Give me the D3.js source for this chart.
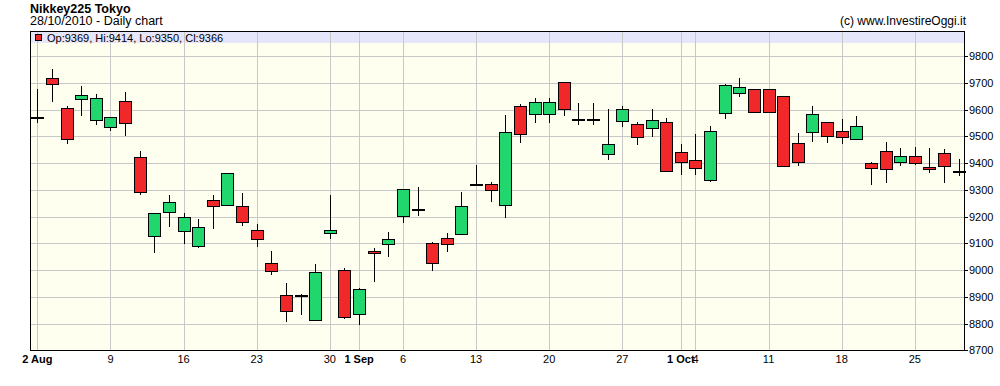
<!DOCTYPE html>
<html><head><meta charset="utf-8">
<script src="https://cdn.jsdelivr.net/npm/d3@7"></script>
<style>
body{margin:0;background:#fff;}
svg{display:block;font-family:"Liberation Sans",Arial,sans-serif;}
</style></head>
<body><svg id="c" width="1000" height="386"></svg>
<script>
const dates = ["2010-08-02","2010-08-03","2010-08-04","2010-08-05","2010-08-06",
"2010-08-09","2010-08-10","2010-08-11","2010-08-12","2010-08-13",
"2010-08-16","2010-08-17","2010-08-18","2010-08-19","2010-08-20",
"2010-08-23","2010-08-24","2010-08-25","2010-08-26","2010-08-27",
"2010-08-30","2010-08-31","2010-09-01","2010-09-02","2010-09-03",
"2010-09-06","2010-09-07","2010-09-08","2010-09-09","2010-09-10",
"2010-09-13","2010-09-14","2010-09-15","2010-09-16","2010-09-17",
"2010-09-20","2010-09-21","2010-09-22","2010-09-23","2010-09-24",
"2010-09-27","2010-09-28","2010-09-29","2010-09-30","2010-10-01",
"2010-10-04","2010-10-05","2010-10-06","2010-10-07","2010-10-08",
"2010-10-11","2010-10-12","2010-10-13","2010-10-14","2010-10-15",
"2010-10-18","2010-10-19","2010-10-20","2010-10-21","2010-10-22",
"2010-10-25","2010-10-26","2010-10-27","2010-10-28"];

const openV  = [9573,9717,9604,9638,9560, 9533,9631,9421,9126,9216, 9145,9089,9261,9243,9239,
 9148,9025,8906,8907,8812, 9139,8999,8834,9070,9097, 9201,9228,9100,9119,9134,
 9323,9320,9242,9612,9582, 9582,9702,9566,9566,9433, 9556,9545,9530,9552,9440,
 9410,9335,9586,9661,9676, 9676,9649,9474,9515,9552, 9519,9489,9399,9444,9403,
 9425,9384,9436,9369];
const highV  = [9677,9751,9613,9688,9658, 9571,9665,9445,9212,9280, 9213,9191,9280,9362,9288,
 9172,9071,8951,8909,9022, 9280,9008,8932,9082,9142, 9302,9310,9104,9138,9292,
 9393,9328,9579,9619,9643, 9643,9702,9624,9624,9602, 9613,9553,9602,9567,9470,
 9507,9538,9695,9718,9676, 9676,9649,9512,9613,9552, 9563,9575,9403,9477,9455,
 9459,9455,9451,9414];
const lowV   = [9548,9629,9472,9577,9543, 9521,9502,9282,9065,9162, 9096,9083,9152,9243,9166,
 9087,8982,8807,8833,8812, 9117,8818,8796,8956,9050, 9175,9203,8997,9067,9134,
 9315,9255,9196,9476,9551, 9551,9577,9543,9543,9412, 9536,9468,9498,9369,9356,
 9356,9330,9566,9648,9590, 9590,9388,9390,9480,9476, 9470,9489,9317,9326,9388,
 9391,9362,9326,9350];
const closeV = [9573,9694,9489,9653,9642, 9571,9548,9291,9212,9253, 9197,9160,9239,9362,9179,
 9115,8995,8846,8906,8991, 9148,8823,8928,9062,9115, 9302,9227,9025,9096,9239,
 9322,9298,9515,9507,9627, 9627,9601,9566,9566,9470, 9601,9496,9560,9369,9403,
 9380,9519,9690,9683,9590, 9590,9388,9403,9582,9500, 9496,9537,9380,9376,9425,
 9399,9376,9388,9366];

const xTickDates  = ["2010-08-02","2010-08-09","2010-08-16","2010-08-23","2010-08-30","2010-09-01",
 "2010-09-06","2010-09-13","2010-09-20","2010-09-27","2010-10-01","2010-10-04","2010-10-11","2010-10-18","2010-10-25"];
const xTickLabels = ["2 Aug","9","16","23","30","1 Sep","6","13","20","27","1 Oct","4","11","18","25"];
const xTickBold   = [true,false,false,false,false,true,false,false,false,false,true,false,false,false,false];
const yTicks = [8700,8800,8900,9000,9100,9200,9300,9400,9500,9600,9700,9800];

const title = "Nikkey225 Tokyo";
const subtitle = "28/10/2010 - Daily chart";
const credit = "(c) www.InvestireOggi.it";

const UP = "#22d66e", DOWN = "#f0282a";
const L = 30, R = 965, T = 31, B = 350;

const svg = d3.select("#c");
const x = d3.scaleBand().domain(dates).range([L, 966]).padding(0);
const y = d3.scaleLinear().domain([8700, 9800]).range([350.3, 56]);
const cx = d => Math.round(x(d) + x.bandwidth()/2) + 0.5;

// plot background
svg.append("rect").attr("x", L).attr("y", T).attr("width", R-L).attr("height", B-T).attr("fill", "#fffff0");
svg.append("rect").attr("x", L).attr("y", T).attr("width", R-L).attr("height", 12).attr("fill", "#e6e6fa");

// grid
const g = svg.append("g").attr("shape-rendering","crispEdges");
g.selectAll("line.h").data(yTicks).join("line")
  .attr("x1", L).attr("x2", R)
  .attr("y1", d => Math.round(y(d))+0.5).attr("y2", d => Math.round(y(d))+0.5)
  .attr("stroke", "#c8c8c8");
g.selectAll("line.v").data(xTickDates).join("line")
  .attr("x1", d => cx(d)).attr("x2", d => cx(d))
  .attr("y1", T).attr("y2", B)
  .attr("stroke", "#c8c8c8");

// legend
const last = dates.length - 1;
svg.append("rect").attr("x", 35.5).attr("y", 34.5).attr("width", 6).attr("height", 6)
  .attr("fill", closeV[last] >= openV[last] ? UP : DOWN).attr("stroke", "#000").attr("shape-rendering","crispEdges");
svg.append("text").attr("x", 47).attr("y", 41.5).attr("font-size", 11).attr("fill", "#000")
  .text(`Op:${openV[last]}, Hi:${highV[last]}, Lo:${lowV[last]}, Cl:${closeV[last]}`);

// candles
const idx = d3.range(dates.length);
const bw = 12;
const cg = svg.append("g").attr("shape-rendering","crispEdges");
cg.selectAll("line.w").data(idx).join("line")
  .attr("x1", i => cx(dates[i])).attr("x2", i => cx(dates[i]))
  .attr("y1", i => Math.round(y(highV[i]))).attr("y2", i => Math.round(y(lowV[i])))
  .attr("stroke", "#000");
cg.selectAll("rect.b").data(idx).join("rect")
  .attr("x", i => cx(dates[i]) - bw/2)
  .attr("y", i => Math.round(y(Math.max(openV[i], closeV[i]))) + 0.5)
  .attr("width", bw)
  .attr("height", i => Math.max(1, Math.round(y(Math.min(openV[i], closeV[i]))) - Math.round(y(Math.max(openV[i], closeV[i])))))
  .attr("fill", i => closeV[i] >= openV[i] ? UP : DOWN)
  .attr("stroke", "#000");

// border
svg.append("rect").attr("x", L+0.5).attr("y", T+0.5).attr("width", R-L-1).attr("height", B-T)
  .attr("fill", "none").attr("stroke", "#000").attr("shape-rendering","crispEdges");

// y axis (right)
const ya = svg.append("g").attr("transform", `translate(${R},0)`)
  .call(d3.axisRight(y).tickValues(yTicks).tickSize(3).tickPadding(1).tickFormat(d3.format("d")));
ya.select(".domain").remove();
ya.selectAll("text").attr("font-size", 11).attr("font-family", "Liberation Sans, Arial, sans-serif").attr("fill","#000");
ya.selectAll("line").attr("stroke","#000").attr("shape-rendering","crispEdges");

// x axis labels
const xa = svg.append("g").attr("transform", `translate(0,${B})`)
  .call(d3.axisBottom(x).tickValues(xTickDates).tickSize(0).tickPadding(5)
    .tickFormat(d => xTickLabels[xTickDates.indexOf(d)]));
xa.select(".domain").remove();
xa.selectAll("text").attr("font-size", 11).attr("font-family", "Liberation Sans, Arial, sans-serif").attr("fill","#000")
  .attr("font-weight", (d) => xTickBold[xTickDates.indexOf(d)] ? "bold" : "normal");

// titles
svg.append("text").attr("x", 30).attr("y", 13).attr("font-size", 12.5).attr("font-weight","bold").text(title);
svg.append("text").attr("x", 30).attr("y", 25).attr("font-size", 12.5).text(subtitle);
svg.append("text").attr("x", 966).attr("y", 25).attr("font-size", 12).attr("text-anchor","end").text(credit);
</script>
</body></html>
